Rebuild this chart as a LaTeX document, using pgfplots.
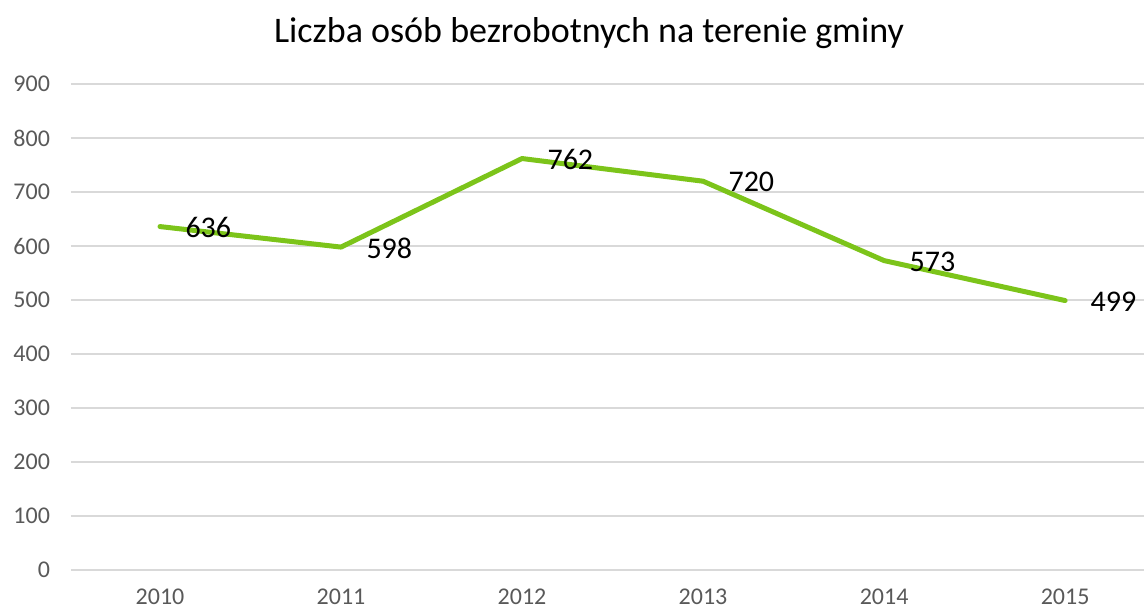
\documentclass[border=0pt]{standalone}
\usepackage{pgfplots}
\pgfplotsset{compat=1.18}
\usepackage{fontspec}
\setmainfont{Carlito}
\definecolor{linegreen}{HTML}{7CC41A}
\definecolor{gridgray}{HTML}{D9D9D9}
\definecolor{ticktext}{HTML}{595959}
\begin{document}
\begin{tikzpicture}
\path[use as bounding box] (0,0) rectangle (572pt,305.5pt);
\node[font=\fontsize{18}{20}\selectfont, anchor=center] at (294.5pt,289pt) {Liczba osób bezrobotnych na terenie gminy};
\begin{axis}[
  at={(35.5pt,20.5pt)}, anchor=south west,
  scale only axis, width=536.5pt, height=243pt,
  xmin=-0.4917, xmax=5.436, ymin=0, ymax=900,
  ytick={0,100,...,900},
  xtick={0,1,2,3,4,5},
  xticklabels={2010,2011,2012,2013,2014,2015},
  axis line style={draw=none},
  major tick length=0pt,
  ymajorgrids, grid style={gridgray, line width=0.9pt},
  tick label style={font=\fontsize{12}{14}\selectfont, text=ticktext},
  /pgf/number format/assume math mode=true,
  yticklabel style={xshift=-7pt},
  xticklabel style={yshift=-6pt},
  clip=false,
  nodes near coords,
  every node near coord/.append style={anchor=west, inner sep=0pt, xshift=11.5pt, yshift=-0.5pt, font=\fontsize{15}{17}\selectfont, text=black},
]
\addplot[linegreen, line width=2.5pt, line join=round, line cap=round, mark=none] coordinates {
(0,636) (1,598) (2,762) (3,720) (4,573) (5,499)};
\end{axis}
\end{tikzpicture}
\end{document}
